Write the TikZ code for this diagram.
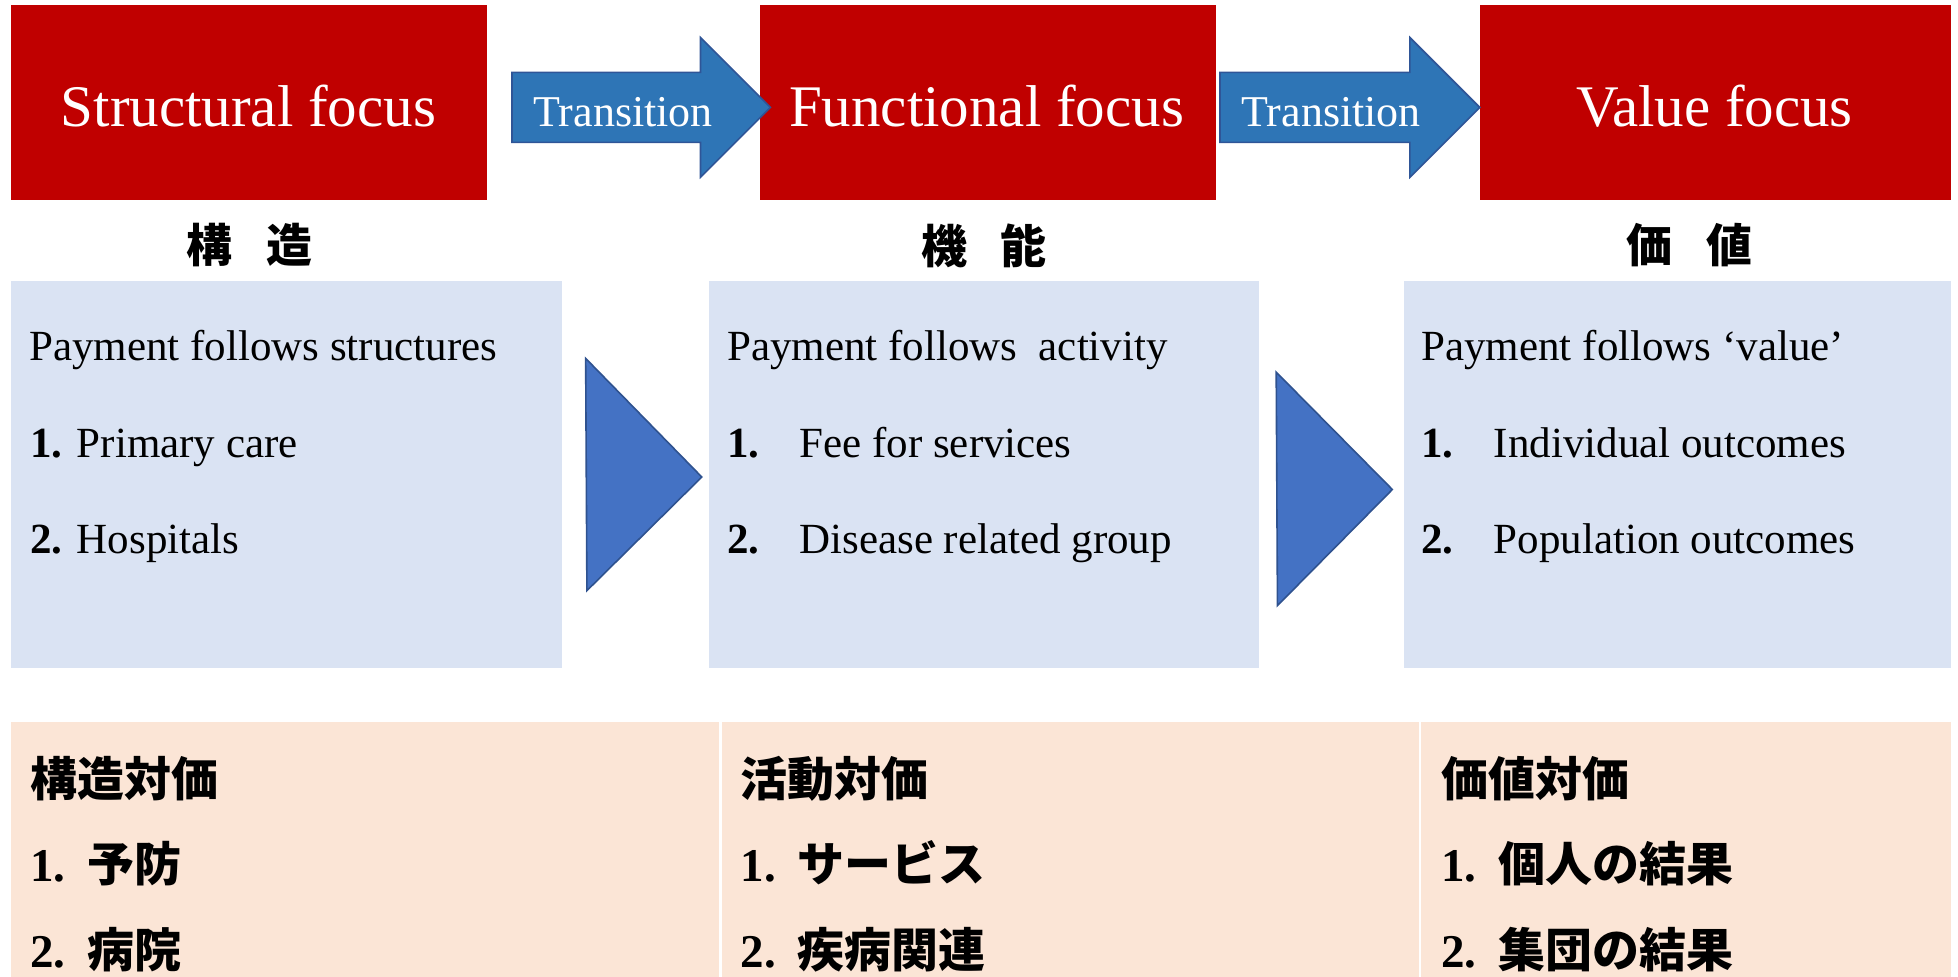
\documentclass[tikz,border=0pt]{standalone}
\usepackage{fontspec}
\setmainfont{Liberation Serif}
\newfontfamily\cjk{Noto Sans CJK JP}
\definecolor{redbox}{HTML}{C00000}
\definecolor{arrowfill}{HTML}{2E75B6}
\definecolor{arrowline}{HTML}{2F5597}
\definecolor{bluebox}{HTML}{DAE3F3}
\definecolor{trifill}{HTML}{4472C4}
\definecolor{triline}{HTML}{2F528F}
\definecolor{peach}{HTML}{FBE5D6}
\newcommand\numlab[1]{{\rmfamily\bfseries #1}}
\begin{document}
\begin{tikzpicture}[x=0.6245pt,y=-0.6245pt,
  redrect/.style={fill=redbox},
  bluerect/.style={fill=bluebox},
  peachrect/.style={fill=peach},
  arrowst/.style={fill=arrowfill,draw=arrowline,line width=0.8pt},
  tri/.style={fill=trifill,draw=triline,line width=0.8pt},
  title/.style={text=white,font=\fontsize{29.5}{32}\selectfont,anchor=base,inner sep=0pt},
  trans/.style={text=white,font=\fontsize{22}{24}\selectfont,anchor=base,inner sep=0pt},
  head/.style={font=\cjk\bfseries\fontsize{23}{26}\selectfont,anchor=center,inner sep=0pt},
  body/.style={font=\fontsize{21.5}{24}\selectfont,anchor=base west,inner sep=0pt},
  jp/.style={font=\cjk\bfseries\fontsize{23.5}{26}\selectfont,anchor=base west,inner sep=0pt}]
\useasboundingbox (0,0) rectangle (1568,782);
% top red boxes
\fill[redrect] (9,4) rectangle (390,160);
\fill[redrect] (609,4) rectangle (974,160);
\fill[redrect] (1185,4) rectangle (1562,160);
\node[title] (t1) at (199,101) {Structural focus};
\node[title] (t2) at (790,101) {Functional focus};
\node[title] (t3) at (1373,101) {Value focus};
% transition arrows
\filldraw[arrowst] (410,58) -- (561,58) -- (561,30) -- (617,86) -- (561,142) -- (561,114) -- (410,114) -- cycle;
\node[trans] (a1) at (499,101) {Transition};
\filldraw[arrowst] (977,58) -- (1129,58) -- (1129,30) -- (1185,86) -- (1129,142) -- (1129,114) -- (977,114) -- cycle;
\node[trans] (a2) at (1066,101) {Transition};
% kanji headings
\node[head] (h1) at (199.5,196.5) {構\hspace{17pt}造};
\node[head] (h2) at (788,196.5) {機\hspace{17pt}能};
\node[head] (h3) at (1353,196.5) {価\hspace{17pt}値};
% blue boxes
\fill[bluerect] (9,225) rectangle (450,535);
\fill[bluerect] (568,225) rectangle (1008,535);
\fill[bluerect] (1124,225) rectangle (1562,535);
% triangles
\filldraw[tri] (469,287) -- (562,382) -- (470,473) -- cycle;
\filldraw[tri] (1022,298) -- (1115,392) -- (1023,485) -- cycle;
% body text
\node[body] (p1) at (23,289) {Payment follows structures};
\node[body] (p1a) at (24,366) {\textbf{1.} Primary care};
\node[body] (p1b) at (24,443) {\textbf{2.} Hospitals};
\node[body] (p2) at (582,289) {Payment follows\ \ activity};
\node[body] (p2a) at (582,366) {\makebox[36.2pt][l]{\textbf{1.}}Fee for services};
\node[body] (p2b) at (582,443) {\makebox[36.2pt][l]{\textbf{2.}}Disease related group};
\node[body] (p3) at (1138,289) {Payment follows ‘value’};
\node[body] (p3a) at (1138,366) {\makebox[36.2pt][l]{\textbf{1.}}Individual outcomes};
\node[body] (p3b) at (1138,443) {\makebox[36.2pt][l]{\textbf{2.}}Population outcomes};
% peach boxes
\fill[peachrect] (9,578) rectangle (576,782);
\fill[peachrect] (578,578) rectangle (1136,782);
\fill[peachrect] (1138,578) rectangle (1562,782);
\node[jp] (q1) at (24,638) {構造対価};
\node[jp] (q1a) at (24,706) {\numlab{1.}\hspace{0.46em}予防};
\node[jp] (q1b) at (24,775) {\numlab{2.}\hspace{0.46em}病院};
\node[jp] (q2) at (593,638) {活動対価};
\node[jp] (q2a) at (593,706) {\numlab{1.}\hspace{0.46em}サービス};
\node[jp] (q2b) at (593,775) {\numlab{2.}\hspace{0.46em}疾病関連};
\node[jp] (q3) at (1154,638) {価値対価};
\node[jp] (q3a) at (1154,706) {\numlab{1.}\hspace{0.46em}個人の結果};
\node[jp] (q3b) at (1154,775) {\numlab{2.}\hspace{0.46em}集団の結果};
\end{tikzpicture}
\end{document}
